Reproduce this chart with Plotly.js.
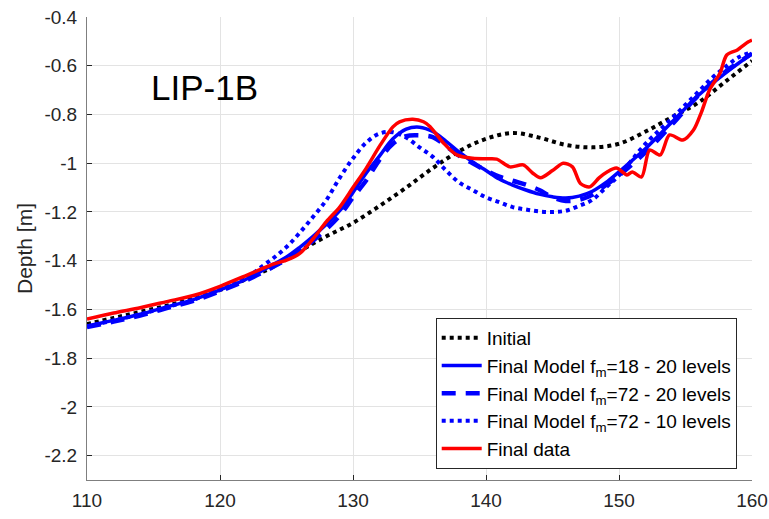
<!DOCTYPE html>
<html>
<head>
<meta charset="utf-8">
<script src="https://cdn.plot.ly/plotly-3.0.1.min.js"></script>
<style>html,body{margin:0;padding:0;background:#fff;}#chart{width:769px;height:519px;}</style>
</head>
<body>
<div id="chart"></div>
<script>
// Initial model
const initX = [110,112,114,116,118,120,122,124,126,128,130,132,134,136,138,140,142,144,146,148,150,152,154,156,158,160];
const initY = [-1.66,-1.635,-1.61,-1.585,-1.555,-1.52,-1.475,-1.425,-1.36,-1.30,-1.245,-1.175,-1.10,-1.02,-0.95,-0.90,-0.876,-0.895,-0.925,-0.935,-0.92,-0.87,-0.81,-0.75,-0.665,-0.58];

// Final Model fm=18 - 20 levels
const m18X = [110,112,114,116,118,120,122,124,125,126,127,128,129,130,131,132,133,134,135,136,137,138,139,140,141,142,143,144,145,146,147,148,149,150,152,154,156,158,160];
const m18Y = [-1.668,-1.645,-1.62,-1.59,-1.56,-1.52,-1.475,-1.415,-1.385,-1.345,-1.30,-1.25,-1.195,-1.12,-1.04,-0.97,-0.90,-0.86,-0.852,-0.87,-0.91,-0.955,-0.995,-1.03,-1.065,-1.09,-1.11,-1.127,-1.138,-1.143,-1.135,-1.115,-1.08,-1.035,-0.94,-0.83,-0.72,-0.63,-0.55];

// Final Model fm=72 - 20 levels
const m72aX = [110,112,114,116,118,120,122,124,126,128,129,130,131,132,133,134,135,136,137,138,139,140,141,142,143,144,145,146,147,148,149,150,152,154,156,158,160];
const m72aY = [-1.672,-1.65,-1.625,-1.595,-1.565,-1.525,-1.48,-1.425,-1.36,-1.27,-1.215,-1.14,-1.07,-0.985,-0.92,-0.889,-0.886,-0.893,-0.93,-0.97,-1.0,-1.03,-1.055,-1.072,-1.088,-1.11,-1.14,-1.155,-1.15,-1.13,-1.09,-1.05,-0.955,-0.84,-0.72,-0.625,-0.55];

// Final Model fm=72 - 10 levels
const m72bX = [110,112,114,116,118,120,122,123,124,125,126,127,128,129,130,131,132,133,134,135,136,137,138,139,140,141,142,143,144,145,146,147,148,149,150,152,154,155,156,157,158,159,160];
const m72bY = [-1.67,-1.645,-1.62,-1.59,-1.56,-1.52,-1.47,-1.43,-1.39,-1.344,-1.285,-1.22,-1.151,-1.06,-0.98,-0.915,-0.878,-0.873,-0.895,-0.935,-0.974,-1.03,-1.08,-1.11,-1.14,-1.16,-1.18,-1.19,-1.198,-1.2,-1.195,-1.175,-1.15,-1.10,-1.05,-0.92,-0.815,-0.76,-0.705,-0.65,-0.605,-0.565,-0.545];

// Final data
const dataX = [110,112,114,116,118,120,122,123,124,125,126,127,128,129,130,131,132,133,133.5,134.5,135.3,135.8,136.8,137.8,139,140,140.8,141.8,142.8,143.5,144.1,145,145.8,146.5,147.1,147.8,148.5,149.1,149.8,150.6,151.0,151.7,152.3,153.1,153.8,154.8,155.6,156.2,156.8,157.6,158.1,158.9,159.7,160];
const dataY = [-1.64,-1.615,-1.593,-1.568,-1.543,-1.505,-1.46,-1.437,-1.414,-1.398,-1.37,-1.31,-1.24,-1.18,-1.10,-1.02,-0.93,-0.851,-0.83,-0.82,-0.83,-0.85,-0.917,-0.966,-0.98,-0.982,-0.983,-1.015,-1.007,-1.04,-1.06,-1.03,-1.0,-1.015,-1.083,-1.097,-1.06,-1.036,-1.02,-1.048,-1.036,-1.056,-0.946,-0.966,-0.884,-0.905,-0.864,-0.79,-0.70,-0.63,-0.556,-0.535,-0.503,-0.495];

const names = ['Initial','Final Model f<sub>m</sub>=18 - 20 levels','Final Model f<sub>m</sub>=72 - 20 levels','Final Model f<sub>m</sub>=72 - 10 levels','Final data'];

const yTickVals = [-2.2,-2,-1.8,-1.6,-1.4,-1.2,-1,-0.8,-0.6,-0.4];
const yTickText = ['-2.2','-2','-1.8','-1.6','-1.4','-1.2','-1','-0.8','-0.6','-0.4'];
const xTickVals = [110,120,130,140,150,160];

const traces = [
  {x: initX, y: initY, name: names[0], mode:'lines', line:{color:'#000000', width:4, dash:'dot', shape:'spline'}},
  {x: m18X, y: m18Y, name: names[1], mode:'lines', line:{color:'#0000ff', width:3.5, shape:'spline'}},
  {x: m72aX, y: m72aY, name: names[2], mode:'lines', line:{color:'#0000ff', width:4.5, dash:'14px,10px', shape:'spline'}},
  {x: m72bX, y: m72bY, name: names[3], mode:'lines', line:{color:'#0000ff', width:4, dash:'dot', shape:'spline'}},
  {x: dataX, y: dataY, name: names[4], mode:'lines', line:{color:'#ff0000', width:3.5, shape:'spline', smoothing:0.8}}
];

const fam = '"Liberation Sans", Arial, Helvetica, sans-serif';

const layout = {
  width:769, height:519,
  margin:{l:87, r:17, t:17, b:39},
  paper_bgcolor:'#ffffff', plot_bgcolor:'#ffffff',
  font: {family:fam, color:'#262626', size:19},
  showlegend:true,
  legend:{x:0.977, y:0.024, xanchor:'right', yanchor:'bottom', bgcolor:'#ffffff', bordercolor:'#262626', borderwidth:1, font:{family:fam, size:19, color:'#000000'}, itemwidth:40, tracegroupgap:0},
  xaxis:{range:[110,160], tickvals:xTickVals, ticktext:xTickVals.map(String), ticks:'inside', ticklen:5, tickcolor:'#262626',
    showline:true, linecolor:'#7f7f7f', linewidth:1, showgrid:true, gridcolor:'#e3e3e3', gridwidth:1, zeroline:false, mirror:false,
    tickfont:{family:fam, size:19, color:'#262626'}, ticklabelstandoff:3},
  yaxis:{range:[-2.3,-0.4], tickvals:yTickVals, ticktext:yTickText, ticks:'inside', ticklen:5, tickcolor:'#262626',
    showline:true, linecolor:'#7f7f7f', linewidth:1, showgrid:true, gridcolor:'#e3e3e3', gridwidth:1, zeroline:false, mirror:false,
    tickfont:{family:fam, size:19, color:'#262626'}, ticklabelstandoff:5,
    title:{text:'Depth [m]', font:{family:fam, size:21, color:'#262626'}, standoff:6}},
  annotations:[{text:'LIP-1B', xref:'paper', yref:'paper', x:0.177, y:0.847, xanchor:'center', yanchor:'middle', showarrow:false, font:{size:35, color:'#000000', family:fam}}]
};

Plotly.newPlot('chart', traces, layout, {staticPlot:true, displayModeBar:false});
</script>
</body>
</html>
